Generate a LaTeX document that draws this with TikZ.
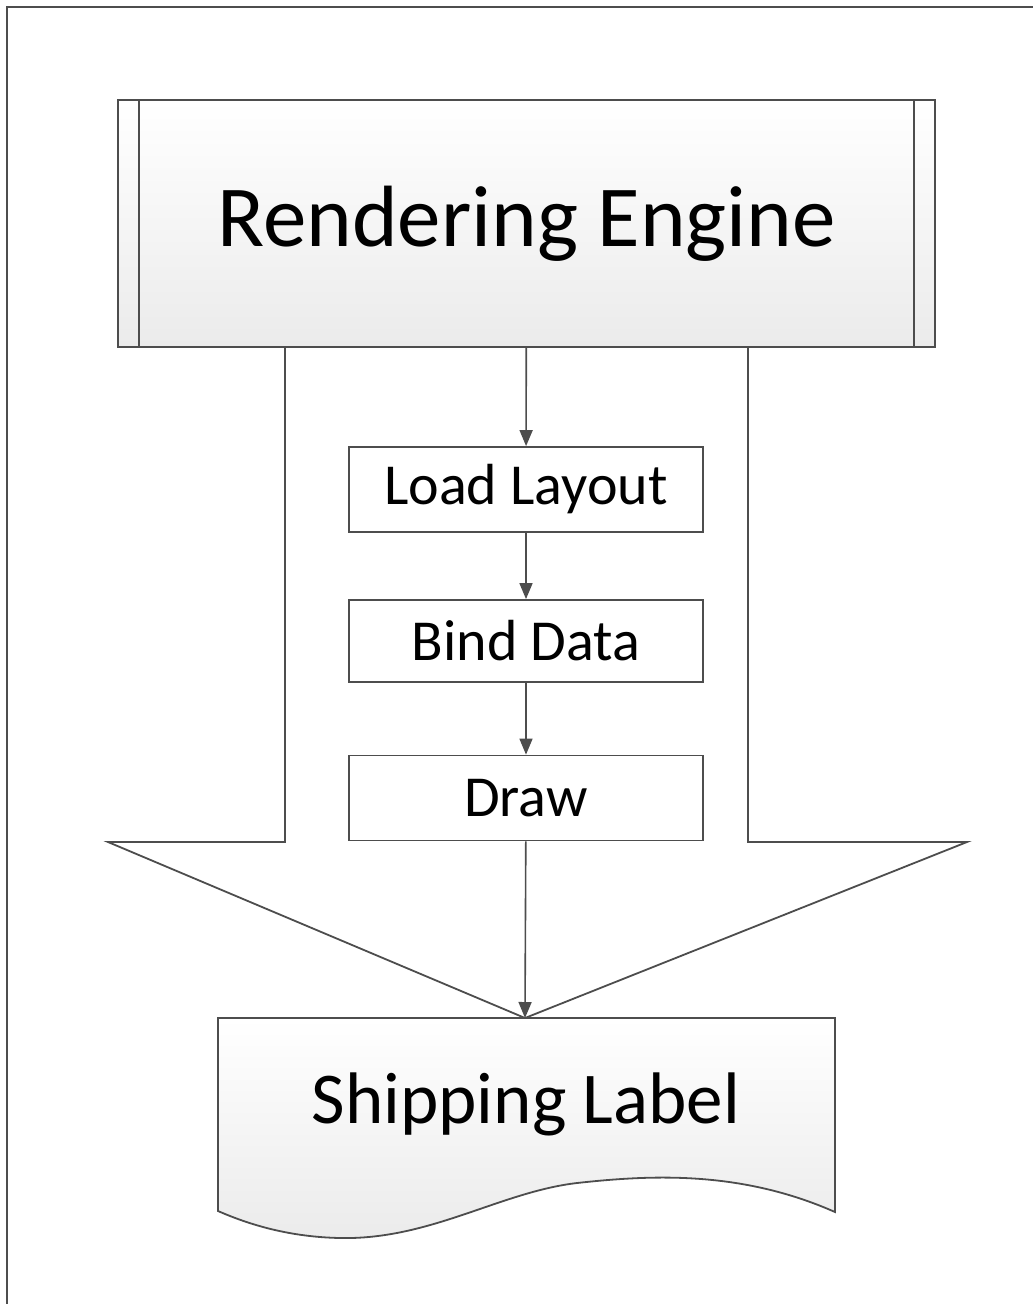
\documentclass[tikz,border=0pt]{standalone}
\usepackage{fontspec}
\setmainfont{Carlito}
\usetikzlibrary{arrows.meta,positioning}
\definecolor{linegray}{HTML}{4D4D4D}
\definecolor{shadegray}{HTML}{EBEBEB}

\begin{document}
\begin{tikzpicture}[x=1pt, y=-1pt, >={Triangle[length=16pt, width=13pt]},
    engine/.style={draw=linegray, line width=2pt, top color=white, bottom color=shadegray,
        minimum width=817pt, minimum height=247pt, inner sep=0pt, font=\fontsize{87}{100}\selectfont},
    stepbox/.style={draw=linegray, line width=1.8pt, fill=white,
        minimum width=354pt, minimum height=85pt, inner sep=0pt, font=\fontsize{58}{70}\selectfont},
    flow/.style={->, draw=linegray, fill=linegray, line width=1.6pt}]
        \useasboundingbox (0,0) rectangle (1033,1304);
        % Frame of the page
        \draw[linegray, line width=2pt] (7,1304) -- (7,7) -- (1033,7);

        % Big arrow behind the steps
        \coordinate (tip) at (525,1018);
        \draw[linegray, line width=1.8pt, line join=miter]
            (285,347) -- (285,842) -- (108,842) -- (tip) -- (967,842) -- (748,842) -- (748,347);

        % Shipping label document
        \draw[linegray, line width=1.8pt, top color=white, bottom color=shadegray]
            (218,1018) -- (835,1018) -- (835,1212)
            .. controls (740,1170) and (650,1175) .. (577,1183)
            .. controls (500,1192) and (430,1240) .. (340,1238)
            .. controls (290,1237) and (250,1225) .. (218,1211) -- cycle;
        \node[font=\fontsize{73}{85}\selectfont] (label) at (526,1104) {Shipping Label};

        % Engine and its steps
        \node[engine] (engine) at (526.5,223.5) {Rendering Engine};
        \draw[linegray, line width=1.8pt] ([xshift=22pt]engine.north west) -- ([xshift=22pt]engine.south west);
        \draw[linegray, line width=1.8pt] ([xshift=-22pt]engine.north east) -- ([xshift=-22pt]engine.south east);
        \node[stepbox] (load) at (526,489.5) {Load Layout};
        \node[stepbox, minimum height=82pt] (bind) at (526,641) {Bind Data};
        \node[stepbox] (drawstep) at (526,798) {Draw};

        % Flow between the steps
        \draw[flow] (engine) -- (load);
        \draw[flow] (load) -- (bind);
        \draw[flow] (bind) -- (drawstep);
        \draw[flow] (drawstep) -- (tip);
    \end{tikzpicture}
\end{document}
